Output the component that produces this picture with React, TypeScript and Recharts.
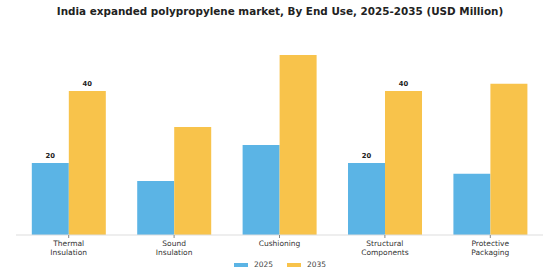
import { Bar, BarChart, LabelList, XAxis, YAxis } from "recharts";

const categories = ["Thermal Insulation", "Sound Insulation", "Cushioning", "Structural Components", "Protective Packaging"];
const tickLines = [["Thermal", "Insulation"], ["Sound", "Insulation"], ["Cushioning"], ["Structural", "Components"], ["Protective", "Packaging"]];
const values2025 = [20, 15, 25, 20, 17];
const values2035 = [40, 30, 50, 40, 42];
const showValue = [true, false, false, true, false];
const seriesNames = ["2025", "2035"];
const colors = ["#5BB4E5", "#F8C34B"];

const title = "India expanded polypropylene market, By End Use, 2025-2035 (USD Million)";
const font = "DejaVu Sans, sans-serif";

const data = categories.map((name, i) => ({
  name,
  v2025: values2025[i],
  v2035: values2035[i],
}));

const CategoryTick = (props: any) => {
  const { x, y, index } = props;
  const lines = tickLines[index] || [];
  return (
    <g transform={`translate(${x},${y})`}>
      {lines.map((line, i) => (
        <text key={i} x={0} y={i * 8.5} dy={6} textAnchor="middle" fill="#333" fontSize={7.5} fontFamily={font}>
          {line}
        </text>
      ))}
    </g>
  );
};

// only some bars carry a value label
const ValueLabel = (props: any) => {
  const { x, y, width, value, index } = props;
  if (!showValue[index]) return null;
  return (
    <text x={x + width / 2} y={y - 5} textAnchor="middle" fill="#222" fontSize={6.8} fontWeight="bold" fontFamily={font}>
      {value}
    </text>
  );
};

export default function App() {
  return (
    <div style={{ position: "absolute", left: 0, top: 0, width: 560, height: 280, background: "#fff", fontFamily: font }}>
      <div style={{ position: "absolute", top: 5, width: 560, textAlign: "center", fontSize: 10.4, fontWeight: "bold", color: "#222" }}>
        {title}
      </div>
      <BarChart
        width={560}
        height={280}
        data={data}
        margin={{ top: 37, right: 17, left: 16, bottom: 0 }}
        barGap={0}
        barCategoryGap="15%">
        <XAxis
          dataKey="name"
          height={45}
          interval={0}
          axisLine={{ stroke: "#ddd" }}
          tickLine={{ stroke: "#888" }}
          tickSize={3}
          tick={<CategoryTick />}
        />
        <YAxis hide domain={[0, 55]} />
        <Bar dataKey="v2025" fill={colors[0]} isAnimationActive={false}>
          <LabelList dataKey="v2025" content={<ValueLabel />} />
        </Bar>
        <Bar dataKey="v2035" fill={colors[1]} isAnimationActive={false}>
          <LabelList dataKey="v2035" content={<ValueLabel />} />
        </Bar>
      </BarChart>
      <div style={{ position: "absolute", top: 260, width: 560, display: "flex", justifyContent: "center", gap: 14, fontSize: 7.5, color: "#444" }}>
        {seriesNames.map((s, i) => (
          <div key={s} style={{ display: "flex", alignItems: "center", gap: 6 }}>
            <span style={{ display: "inline-block", width: 14, height: 4, background: colors[i] }} />
            <span>{s}</span>
          </div>
        ))}
      </div>
    </div>
  );
}
